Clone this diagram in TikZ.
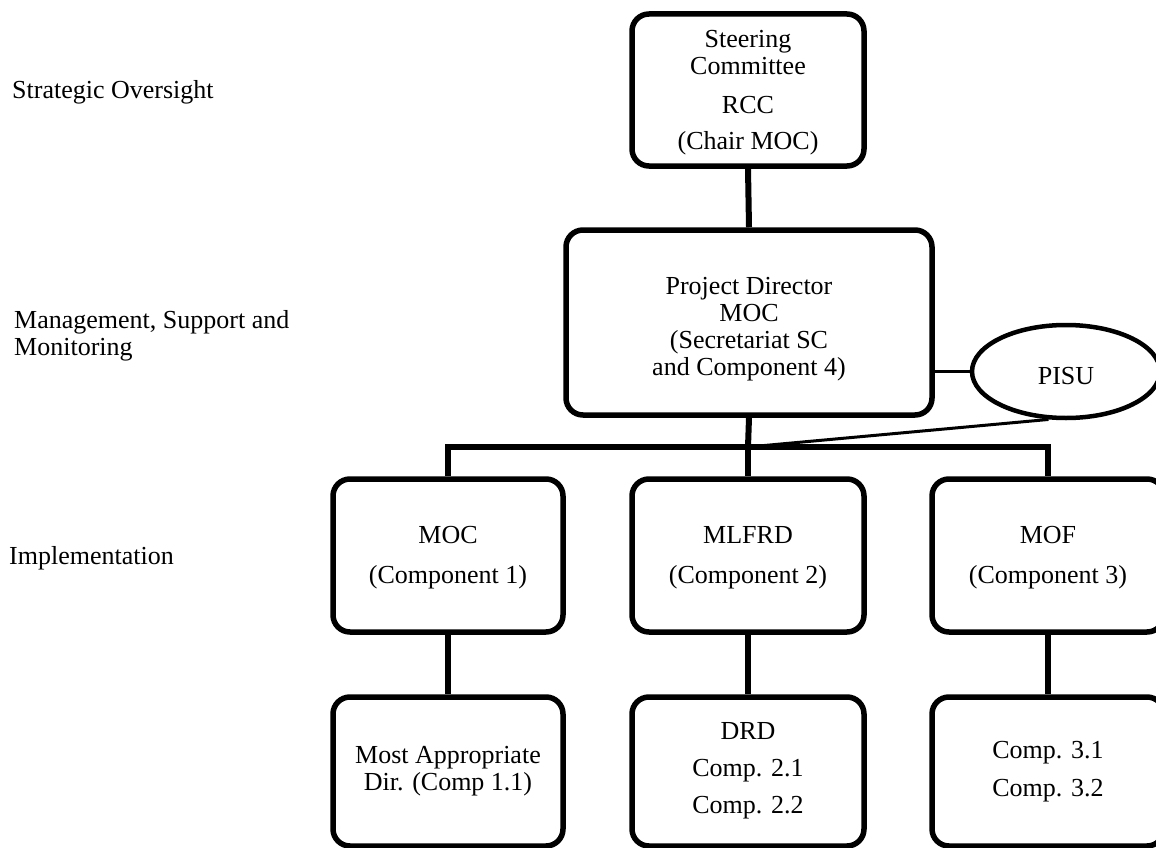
\documentclass[tikz,border=0pt]{standalone}
\usepackage{fontspec}
\setmainfont{Liberation Serif}
\usetikzlibrary{shapes.geometric}
\begin{document}
\begin{tikzpicture}[x=1pt,y=-1pt,
  box/.style={draw=black,line width=5.5pt,rounded corners=17pt,fill=white,inner sep=0pt},
  txt/.style={align=center,font=\fontsize{26}{27}\selectfont,inner sep=0pt},
  lbl/.style={align=left,font=\fontsize{26}{27}\selectfont,inner sep=0pt,anchor=west},
  conn/.style={draw=black,line width=6pt},
  linkconn/.style={draw=black,line width=3.5pt},
  thinconn/.style={draw=black,line width=3pt}]
\useasboundingbox (0,0) rectangle (1156,848);
\fill[white] (0,0) rectangle (1156,848);

% left level labels
\node[lbl] (l1) at (12,92) {Strategic Oversight};
\node[lbl] (l2) at (14,336) {Management, Support and\\Monitoring};
\node[lbl] (l3) at (9,558) {Implementation};

% boxes
\node[box,minimum width=232pt,minimum height=152pt] (sc) at (748,90) {};
\node[box,minimum width=366pt,minimum height=185pt] (pd) at (749,322.5) {};
\node[draw=black,line width=4.5pt,ellipse,minimum width=188pt,minimum height=93pt,inner sep=0pt,fill=white] (pisu) at (1066,371.5) {};

\node[box,minimum width=230pt,minimum height=153pt] (m1) at (448,555.5) {};
\node[box,minimum width=232pt,minimum height=153pt] (m2) at (748,555.5) {};
\node[box,minimum width=232pt,minimum height=153pt] (m3) at (1048,555.5) {};

\node[box,minimum width=230pt,minimum height=149pt] (b1) at (448,771.5) {};
\node[box,minimum width=232pt,minimum height=149pt] (b2) at (748,771.5) {};
\node[box,minimum width=232pt,minimum height=149pt] (b3) at (1048,771.5) {};

% texts
\node[txt] (sct) at (748,93) {Steering\\Committee\\[12pt]RCC\\[9pt](Chair MOC)};
\node[txt] (pdt) at (749,329) {Project Director\\MOC\\(Secretariat SC\\and Component 4)};
\node[txt] (pisut) at (1066,376) {PISU};
\node[txt] (m1t) at (448,558) {MOC\\[13pt](Component 1)};
\node[txt] (m2t) at (748,558) {MLFRD\\[13pt](Component 2)};
\node[txt] (m3t) at (1048,558) {MOF\\[13pt](Component 3)};
\node[txt] (b1t) at (448,771) {Most Appropriate\\Dir. (Comp 1.1)};
\node[txt] (b2t) at (748,771) {DRD\\[10pt]Comp. 2.1\\[10pt]Comp. 2.2};
\node[txt] (b3t) at (1048,772) {Comp. 3.1\\[11pt]Comp. 3.2};

% connectors
\coordinate (j) at (748,447);
\draw[conn] (sc.south) -- (pd.north);
\draw[conn] (pd.south) -- (j);
\draw[conn] (m1.north) |- (j) -| (m3.north);
\draw[conn] (j) -- (m2.north);
\draw[linkconn] (pd.east |- pisu.west) -- (pisu.west);
\draw[thinconn] (pisu.250) -- (j);
\draw[conn] (m1.south) -- (b1.north);
\draw[conn] (m2.south) -- (b2.north);
\draw[conn] (m3.south) -- (b3.north);
\end{tikzpicture}
\end{document}
